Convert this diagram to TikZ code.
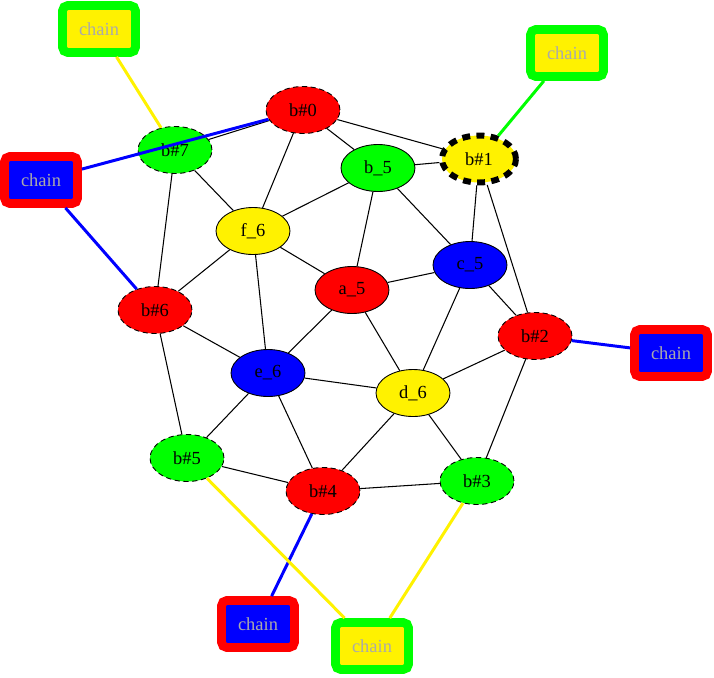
\documentclass[tikz,border=0pt]{standalone}
\usepackage{fontspec}
\setmainfont{Liberation Serif}
\usetikzlibrary{shapes.geometric}
\definecolor{chaingray}{RGB}{170,170,170}

\begin{document}
\begin{tikzpicture}[x=0.02cm,y=-0.02cm,
    every node/.style={font=\fontsize{10.5}{12}\selectfont},
    ball/.style={ellipse,draw,minimum width=1.48cm,minimum height=0.94cm,inner sep=0pt,line width=0.5pt},
    bead/.style={ball,dash pattern=on 3pt off 2pt},
    chain/.style={rectangle,draw,rounded corners=3pt,line width=5pt,minimum width=1.46cm,minimum height=0.94cm,text=chaingray},
    link/.style={line width=0.6pt},
    tie/.style={line width=1.7pt}]
    \useasboundingbox (0,0) rectangle (714,677);

    % balls
    \node[bead,fill=red] (b0) at (303,110) {b\#0};
    \node[ball,fill=yellow,line width=3.4pt,dash pattern=on 4.5pt off 3.6pt] (b1) at (479,159) {b\#1};
    \node[ball,fill=green] (b5) at (378,168) {b\_5};
    \node[bead,fill=green] (b7) at (175,150) {b\#7};
    \node[ball,fill=yellow] (f6) at (253,231) {f\_6};
    \node[ball,fill=blue] (c5) at (470,265) {c\_5};
    \node[ball,fill=red] (a5) at (352,290) {a\_5};
    \node[bead,fill=red] (b6) at (155,310) {b\#6};
    \node[bead,fill=red] (b2) at (535,336) {b\#2};
    \node[ball,fill=blue] (e6) at (268,373) {e\_6};
    \node[ball,fill=yellow] (d6) at (413,393) {d\_6};
    \node[bead,fill=green] (b5h) at (187,458) {b\#5};
    \node[bead,fill=red] (b4) at (323,491) {b\#4};
    \node[bead,fill=green] (b3) at (477,481) {b\#3};

    % chains
    \node[chain,draw=green,fill=yellow] (ch7) at (99,29) {chain};
    \node[chain,draw=green,fill=yellow] (ch1) at (567,53) {chain};
    \node[chain,draw=red,fill=blue] (ch06) at (41,180) {chain};
    \node[chain,draw=red,fill=blue] (ch2) at (671,353) {chain};
    \node[chain,draw=red,fill=blue] (ch4) at (258,624) {chain};
    \node[chain,draw=green,fill=yellow] (ch35) at (372,646) {chain};

    % bonds
    \draw[link] (b0) -- (b7);
    \draw[link] (b0) -- (f6);
    \draw[link] (b0) -- (b5);
    \draw[link] (b0) -- (b1);
    \draw[link] (b5) -- (b1);
    \draw[link] (b5) -- (f6);
    \draw[link] (b5) -- (a5);
    \draw[link] (b5) -- (c5);
    \draw[link] (b1) -- (c5);
    \draw[link] (b1) -- (b2);
    \draw[link] (b7) -- (f6);
    \draw[link] (b7) -- (b6);
    \draw[link] (f6) -- (b6);
    \draw[link] (f6) -- (a5);
    \draw[link] (f6) -- (e6);
    \draw[link] (c5) -- (a5);
    \draw[link] (c5) -- (b2);
    \draw[link] (c5) -- (d6);
    \draw[link] (a5) -- (e6);
    \draw[link] (a5) -- (d6);
    \draw[link] (b6) -- (e6);
    \draw[link] (b6) -- (b5h);
    \draw[link] (b2) -- (d6);
    \draw[link] (b2) -- (b3);
    \draw[link] (e6) -- (d6);
    \draw[link] (e6) -- (b5h);
    \draw[link] (e6) -- (b4);
    \draw[link] (d6) -- (b4);
    \draw[link] (d6) -- (b3);
    \draw[link] (b5h) -- (b4);
    \draw[link] (b4) -- (b3);

    % chain ties
    \draw[tie,color=yellow] (ch7) -- (b7);
    \draw[tie,color=green] (ch1) -- (b1);
    \draw[tie,color=blue] (ch06) -- (b0);
    \draw[tie,color=blue] (ch06) -- (b6);
    \draw[tie,color=blue] (ch2) -- (b2);
    \draw[tie,color=blue] (ch4) -- (b4);
    \draw[tie,color=yellow] (ch35) -- (b5h);
    \draw[tie,color=yellow] (ch35) -- (b3);
\end{tikzpicture}
\end{document}
